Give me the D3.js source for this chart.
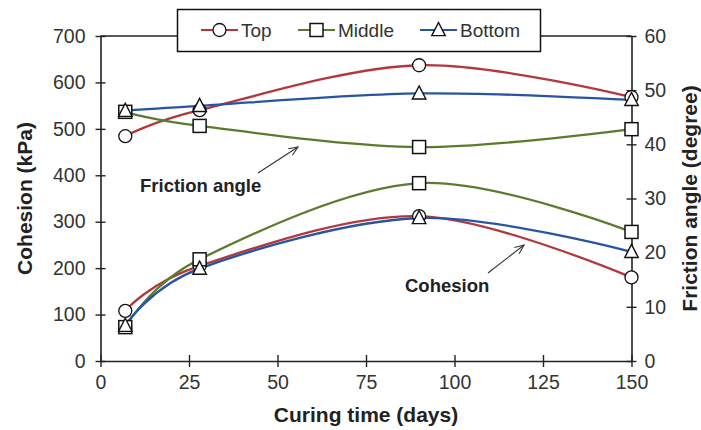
<!DOCTYPE html>
<html><head><meta charset="utf-8">
<script src="https://cdn.jsdelivr.net/npm/d3@7"></script>
<style>body{margin:0;background:#fff}svg{display:block}</style>
</head><body>
<svg id="c" width="701" height="430"></svg>
<script>
const days = [7, 28, 90, 150];
const seriesNames = ["Top", "Middle", "Bottom"];
const cohesionTop = [108, 205, 312, 180];
const cohesionMiddle = [73, 219, 383, 278];
const cohesionBottom = [76, 199, 308, 235];
const frictionTop = [41.5, 46.3, 54.6, 48.7];
const frictionMiddle = [46.0, 43.4, 39.5, 42.8];
const frictionBottom = [46.2, 47.1, 49.4, 48.2];
const xTicks = [0, 25, 50, 75, 100, 125, 150];
const yLeftTicks = [0, 100, 200, 300, 400, 500, 600, 700];
const yRightTicks = [0, 10, 20, 30, 40, 50, 60];
const colors = ["#b3383d", "#5b7c2c", "#2855a2"];
const markers = ["circle", "square", "triangle"];

const svg = d3.select("#c");
const L = 100.5, R = 631.5, T = 36, B = 361;
const x = d3.scaleLinear().domain([0, 150]).range([L, R]);
const yL = d3.scaleLinear().domain([0, 700]).range([B, T]);
const yR = d3.scaleLinear().domain([0, 60]).range([B, T]);
const font = "Arial, 'Liberation Sans', sans-serif";
const axisCol = "#222";
const labCol = "#333";

// frame top line
svg.append("line").attr("x1", L).attr("x2", R).attr("y1", T).attr("y2", T)
  .attr("stroke", axisCol).attr("stroke-width", 1.6);

function styleAxis(g) {
  g.selectAll("path").attr("stroke", axisCol).attr("stroke-width", 1.6);
  g.selectAll("line").attr("stroke", axisCol).attr("stroke-width", 1.4);
  g.selectAll("text").attr("fill", labCol).style("font-family", font).style("font-size", "19.5px");
}
const gx = svg.append("g").attr("transform", `translate(0,${B})`)
  .call(d3.axisBottom(x).tickValues(xTicks).tickSize(6).tickSizeOuter(0).tickPadding(8));
gx.selectAll(".tick line").attr("y1", -6);
styleAxis(gx);
const gl = svg.append("g").attr("transform", `translate(${L},0)`)
  .call(d3.axisLeft(yL).tickValues(yLeftTicks).tickSize(5).tickSizeOuter(0).tickPadding(10));
gl.selectAll(".tick line").attr("x1", 5).attr("x2", -5);
styleAxis(gl);
const gr = svg.append("g").attr("transform", `translate(${R},0)`)
  .call(d3.axisRight(yR).tickValues(yRightTicks).tickSize(5).tickSizeOuter(0).tickPadding(8));
gr.selectAll(".tick line").attr("x1", -5).attr("x2", 5);
styleAxis(gr);

// axis titles
svg.append("text").attr("x", (L + R) / 2).attr("y", 422).attr("text-anchor", "middle")
  .style("font-family", font).style("font-size", "21px").style("font-weight", "bold").attr("fill", "#222")
  .text("Curing time (days)");
svg.append("text").attr("transform", `translate(32,${(T + B) / 2}) rotate(-90)`).attr("text-anchor", "middle")
  .style("font-family", font).style("font-size", "21px").style("font-weight", "bold").attr("fill", "#222")
  .text("Cohesion (kPa)");
svg.append("text").attr("transform", `translate(697,${(T + B) / 2}) rotate(-90)`).attr("text-anchor", "middle")
  .style("font-family", font).style("font-size", "21px").style("font-weight", "bold").attr("fill", "#222")
  .text("Friction angle (degree)");

const line = d3.line().curve(d3.curveCardinal.tension(0));
const cohesion = [cohesionTop, cohesionMiddle, cohesionBottom];
const friction = [frictionTop, frictionMiddle, frictionBottom];

function drawMarker(g, type, cx, cy) {
  if (type === "circle") {
    g.append("circle").attr("cx", cx).attr("cy", cy).attr("r", 6.5)
      .attr("fill", "#fff").attr("stroke", "#111").attr("stroke-width", 1.3);
  } else if (type === "square") {
    g.append("rect").attr("x", cx - 6.5).attr("y", cy - 6.5).attr("width", 13).attr("height", 13)
      .attr("fill", "#fff").attr("stroke", "#111").attr("stroke-width", 1.5);
  } else {
    const s = 7.5;
    g.append("path").attr("d", `M${cx},${cy - s}L${cx + s * 0.9},${cy + s * 0.75}L${cx - s * 0.9},${cy + s * 0.75}Z`)
      .attr("fill", "#fff").attr("stroke", "#111").attr("stroke-width", 1.4);
  }
}

// lines first
for (let i = 0; i < 3; i++) {
  svg.append("path").attr("d", line(days.map((d, j) => [x(d), yL(cohesion[i][j])])))
    .attr("fill", "none").attr("stroke", colors[i]).attr("stroke-width", 2.3);
  svg.append("path").attr("d", line(days.map((d, j) => [x(d), yR(friction[i][j])])))
    .attr("fill", "none").attr("stroke", colors[i]).attr("stroke-width", 2.3);
}
const mg = svg.append("g");
for (let i = 0; i < 3; i++) {
  days.forEach((d, j) => {
    drawMarker(mg, markers[i], x(d), yL(cohesion[i][j]));
    drawMarker(mg, markers[i], x(d), yR(friction[i][j]));
  });
}

// annotations
function arrow(x1, y1, x2, y2) {
  svg.append("line").attr("x1", x1).attr("y1", y1).attr("x2", x2).attr("y2", y2)
    .attr("stroke", "#333").attr("stroke-width", 1.1);
  const a = Math.atan2(y2 - y1, x2 - x1), h = 10, w = 0.4;
  const p1 = [x2 - h * Math.cos(a - w), y2 - h * Math.sin(a - w)];
  const p2 = [x2 - h * Math.cos(a + w), y2 - h * Math.sin(a + w)];
  svg.append("path").attr("d", `M${p1}L${x2},${y2}L${p2}`).attr("fill", "none")
    .attr("stroke", "#333").attr("stroke-width", 1.1);
}
svg.append("text").attr("x", 140).attr("y", 192).style("font-family", font)
  .style("font-size", "18.5px").style("font-weight", "bold").attr("fill", "#222").text("Friction angle");
arrow(258, 173, 298, 147);
svg.append("text").attr("x", 405).attr("y", 292).style("font-family", font)
  .style("font-size", "18.5px").style("font-weight", "bold").attr("fill", "#222").text("Cohesion");
arrow(488, 273, 524, 245);

// legend
const lg = svg.append("g");
lg.append("rect").attr("x", 177.5).attr("y", 9.5).attr("width", 363).attr("height", 42)
  .attr("fill", "#fff").attr("stroke", "#111").attr("stroke-width", 1.5);
const legX = [201, 298, 420];
seriesNames.forEach((n, i) => {
  const lx = legX[i], ly = 30;
  lg.append("line").attr("x1", lx).attr("x2", lx + 37).attr("y1", ly).attr("y2", ly)
    .attr("stroke", colors[i]).attr("stroke-width", 2.2);
  drawMarker(lg, markers[i], lx + 18.5, ly);
  lg.append("text").attr("x", lx + 40).attr("y", ly + 6.5).style("font-family", font)
    .style("font-size", "19px").attr("fill", labCol).text(n);
});
</script>
</body></html>
